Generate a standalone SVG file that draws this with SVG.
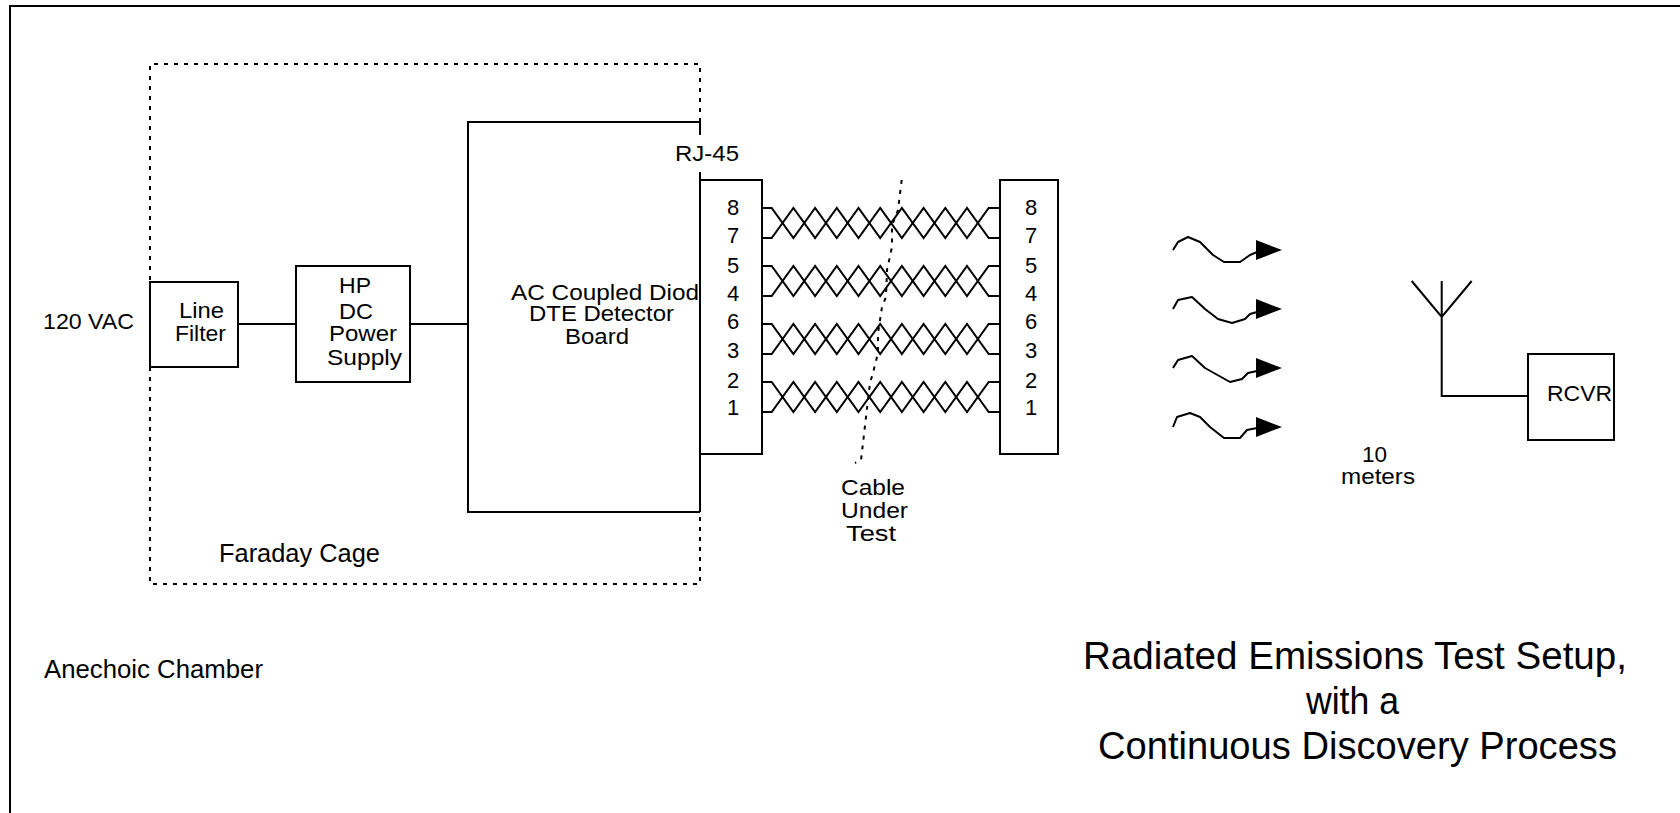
<svg xmlns="http://www.w3.org/2000/svg" width="1680" height="813" viewBox="0 0 1680 813">
<style>
text{font-family:"Liberation Sans",Arial,sans-serif;fill:#000;font-size:22px}
.s{fill:none;stroke:#000;stroke-width:2}
.b{fill:#fff;stroke:#000;stroke-width:2}
.d{fill:none;stroke:#000;stroke-width:2;stroke-dasharray:4 6}
.w{fill:none;stroke:#000;stroke-width:2;stroke-linejoin:round}
.n{font-size:22px}
.m{font-size:25.5px}
.t{font-size:39px}
</style>
<defs>
<polygon id="head" points="0,-10 26,0 0,10" fill="#000"/>
<g id="pair">
<path class="s" d="M0 0H9.7L31.4 30L53.1 0L74.8 30L96.5 0L118.2 30L139.9 0L161.6 30L183.3 0L205 30L226.7 0H238"/>
<path class="s" d="M0 30H9.7L31.4 0L53.1 30L74.8 0L96.5 30L118.2 0L139.9 30L161.6 0L183.3 30L205 0L226.7 30H238"/>
</g>
</defs>
<rect width="1680" height="813" fill="#fff"/>
<g id="anechoic-chamber">
<path class="s" d="M10 813V6H1680"/>
<text class="m" x="44" y="678" textLength="219" lengthAdjust="spacingAndGlyphs">Anechoic Chamber</text>
</g>
<g id="faraday-cage">
<path class="d" d="M700 122V64H150V282M150 367V584H700V512"/>
<text class="m" x="219" y="562" textLength="161" lengthAdjust="spacingAndGlyphs">Faraday Cage</text>
</g>
<g id="connectors">
<path class="s" d="M238 324H296M410 324H468"/>
<use href="#pair" x="762" y="208"/>
<use href="#pair" x="762" y="266"/>
<use href="#pair" x="762" y="324"/>
<use href="#pair" x="762" y="382"/>
<path class="d" d="M901.7 180L898 210L892 225L892 247L887 270L886 297L882 307L878 333L878 353L873 373L870 383L866 417L863 443L861 460L855 463"/>
<path class="s" d="M1441.7 281V396H1528M1411.7 281L1441.7 317L1471.7 281"/>
</g>
<g id="line-filter">
<rect class="b" x="150" y="282" width="88" height="85"/>
<text x="179" y="318" textLength="45" lengthAdjust="spacingAndGlyphs">Line</text>
<text x="175" y="341" textLength="51" lengthAdjust="spacingAndGlyphs">Filter</text>
</g>
<g id="power-supply">
<rect class="b" x="296" y="266" width="114" height="116"/>
<text x="339" y="293" textLength="32" lengthAdjust="spacingAndGlyphs">HP</text>
<text x="339" y="319" textLength="34" lengthAdjust="spacingAndGlyphs">DC</text>
<text x="329" y="341" textLength="68" lengthAdjust="spacingAndGlyphs">Power</text>
<text x="327" y="365" textLength="75" lengthAdjust="spacingAndGlyphs">Supply</text>
</g>
<g id="vac"><text x="43" y="329" textLength="91" lengthAdjust="spacingAndGlyphs">120 VAC</text></g>
<g id="detector-board">
<path class="s" d="M700 122H468V512H700M700 122V135M700 172V512"/>
<text x="511" y="300" textLength="188" lengthAdjust="spacingAndGlyphs">AC Coupled Diod</text>
<text x="529" y="321" textLength="145" lengthAdjust="spacingAndGlyphs">DTE Detector</text>
<text x="565" y="344" textLength="64" lengthAdjust="spacingAndGlyphs">Board</text>
</g>
<g id="rj45"><text x="675" y="161" textLength="64" lengthAdjust="spacingAndGlyphs">RJ-45</text></g>
<g id="left-connector">
<rect class="b" x="700" y="180" width="62" height="274"/>
<text class="n" x="727" y="215">8</text><text class="n" x="727" y="243">7</text><text class="n" x="727" y="273">5</text><text class="n" x="727" y="301">4</text><text class="n" x="727" y="329">6</text><text class="n" x="727" y="358">3</text><text class="n" x="727" y="388">2</text><text class="n" x="727" y="415">1</text>
</g>
<g id="right-connector">
<rect class="b" x="1000" y="180" width="58" height="274"/>
<text class="n" x="1025" y="215">8</text><text class="n" x="1025" y="243">7</text><text class="n" x="1025" y="273">5</text><text class="n" x="1025" y="301">4</text><text class="n" x="1025" y="329">6</text><text class="n" x="1025" y="358">3</text><text class="n" x="1025" y="388">2</text><text class="n" x="1025" y="415">1</text>
</g>
<g id="cable-label">
<text x="841" y="495" textLength="64" lengthAdjust="spacingAndGlyphs">Cable</text>
<text x="841" y="518" textLength="67" lengthAdjust="spacingAndGlyphs">Under</text>
<text x="846" y="541" textLength="50" lengthAdjust="spacingAndGlyphs">Test</text>
</g>
<g id="waves">
<path class="w" d="M1173 250L1178 242L1188 237L1200 242L1213 255L1224 262H1240L1250 255L1257 252"/><use href="#head" x="1256" y="250"/>
<path class="w" d="M1173 309L1178 300L1192 297L1205 309L1218 319L1232 323L1245 319L1250 314L1257 312"/><use href="#head" x="1256" y="309"/>
<path class="w" d="M1173 368L1178 360L1192 356L1205 368L1230 382L1242 379L1248 373L1257 371"/><use href="#head" x="1256" y="368"/>
<path class="w" d="M1173 427L1177 417L1190 413L1200 417L1210 427L1224 438H1240L1247 430L1257 428"/><use href="#head" x="1256" y="427"/>
</g>
<g id="distance">
<text x="1362" y="462" textLength="25" lengthAdjust="spacingAndGlyphs">10</text>
<text x="1341" y="484" textLength="74" lengthAdjust="spacingAndGlyphs">meters</text>
</g>
<g id="rcvr">
<rect class="b" x="1528" y="354" width="86" height="86"/>
<text x="1547" y="401" textLength="65" lengthAdjust="spacingAndGlyphs">RCVR</text>
</g>
<g id="title">
<text class="t" x="1083" y="669" textLength="544" lengthAdjust="spacingAndGlyphs">Radiated Emissions Test Setup,</text>
<text class="t" x="1306" y="714" textLength="93" lengthAdjust="spacingAndGlyphs">with a</text>
<text class="t" x="1098" y="759" textLength="519" lengthAdjust="spacingAndGlyphs">Continuous Discovery Process</text>
</g>
</svg>
